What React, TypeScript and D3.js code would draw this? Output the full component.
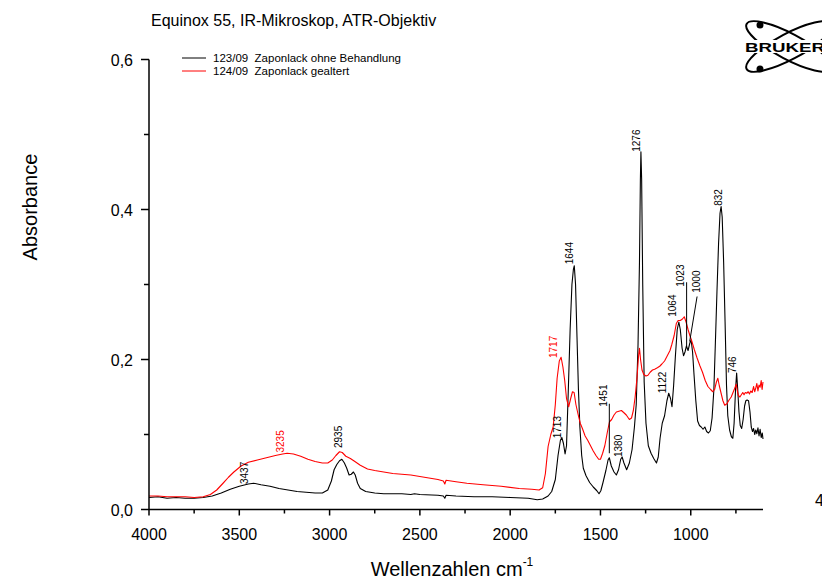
import React from 'react';
import * as d3 from 'd3';

const titleText = 'Equinox 55, IR-Mikroskop, ATR-Objektiv';
const seriesNames = ['123/09  Zaponlack ohne Behandlung', '124/09  Zaponlack gealtert'];
const seriesColors = ['#000000', '#ff0000'];

const blackWn = [4000, 3950, 3900, 3850, 3800, 3750, 3700, 3650, 3600, 3550, 3500, 3450, 3420, 3380, 3330, 3280, 3230, 3180, 3130, 3080, 3040, 3010, 2990, 2975, 2960, 2945, 2932, 2918, 2905, 2892, 2880, 2868, 2858, 2845, 2830, 2800, 2750, 2700, 2600, 2550, 2530, 2500, 2400, 2370, 2362, 2355, 2300, 2200, 2100, 2000, 1900, 1850, 1820, 1790, 1770, 1750, 1735, 1722, 1714, 1705, 1696, 1688, 1678, 1668, 1658, 1650, 1645, 1638, 1630, 1622, 1614, 1604, 1595, 1580, 1560, 1540, 1520, 1508, 1498, 1486, 1470, 1458, 1451, 1440, 1425, 1412, 1400, 1388, 1380, 1370, 1355, 1340, 1325, 1312, 1302, 1292, 1284, 1279, 1276, 1272, 1266, 1258, 1248, 1235, 1220, 1205, 1190, 1180, 1170, 1158, 1145, 1132, 1122, 1112, 1104, 1095, 1085, 1075, 1066, 1058, 1048, 1040, 1032, 1024, 1015, 1005, 998, 990, 982, 972, 962, 952, 942, 932, 922, 912, 902, 892, 882, 872, 864, 855, 846, 838, 832, 826, 818, 810, 802, 795, 785, 775, 767, 760, 752, 746, 740, 733, 726, 718, 710, 702, 695, 688, 680, 672, 665, 658, 652, 646, 640, 634, 628, 622, 616, 610, 604, 600];
const blackAbs = [0.016, 0.017, 0.015, 0.016, 0.015, 0.015, 0.016, 0.018, 0.022, 0.027, 0.031, 0.034, 0.035, 0.033, 0.031, 0.028, 0.026, 0.024, 0.023, 0.022, 0.022, 0.026, 0.038, 0.053, 0.06, 0.065, 0.067, 0.062, 0.055, 0.046, 0.047, 0.05, 0.046, 0.035, 0.028, 0.024, 0.022, 0.021, 0.021, 0.02, 0.021, 0.02, 0.019, 0.018, 0.015, 0.019, 0.018, 0.017, 0.017, 0.016, 0.015, 0.013, 0.014, 0.018, 0.024, 0.04, 0.072, 0.092, 0.096, 0.088, 0.074, 0.085, 0.16, 0.24, 0.3, 0.32, 0.325, 0.3, 0.23, 0.16, 0.11, 0.072, 0.055, 0.045, 0.036, 0.03, 0.025, 0.021, 0.025, 0.036, 0.052, 0.066, 0.069, 0.058, 0.05, 0.046, 0.053, 0.067, 0.07, 0.062, 0.053, 0.062, 0.08, 0.11, 0.14, 0.22, 0.33, 0.44, 0.477, 0.44, 0.3, 0.17, 0.115, 0.085, 0.075, 0.068, 0.062, 0.07, 0.095, 0.115, 0.125, 0.145, 0.155, 0.148, 0.137, 0.165, 0.205, 0.24, 0.25, 0.24, 0.215, 0.205, 0.21, 0.218, 0.212, 0.222, 0.226, 0.21, 0.18, 0.145, 0.118, 0.112, 0.11, 0.107, 0.11, 0.104, 0.102, 0.105, 0.122, 0.16, 0.22, 0.29, 0.355, 0.395, 0.404, 0.39, 0.33, 0.25, 0.165, 0.125, 0.106, 0.097, 0.095, 0.115, 0.16, 0.182, 0.16, 0.13, 0.112, 0.108, 0.12, 0.138, 0.145, 0.146, 0.145, 0.13, 0.11, 0.104, 0.108, 0.1, 0.106, 0.101, 0.109, 0.098, 0.107, 0.096, 0.102, 0.094];

const redWn = [4000, 3950, 3900, 3850, 3800, 3750, 3700, 3660, 3625, 3590, 3560, 3530, 3490, 3450, 3400, 3350, 3300, 3260, 3235, 3200, 3160, 3120, 3080, 3040, 3010, 2985, 2965, 2945, 2930, 2910, 2885, 2860, 2830, 2790, 2750, 2700, 2650, 2600, 2550, 2500, 2450, 2400, 2370, 2362, 2355, 2300, 2240, 2150, 2050, 1950, 1880, 1840, 1820, 1805, 1790, 1775, 1762, 1750, 1740, 1728, 1718, 1708, 1698, 1688, 1676, 1665, 1655, 1646, 1636, 1625, 1612, 1600, 1585, 1570, 1555, 1540, 1525, 1510, 1500, 1488, 1476, 1462, 1450, 1438, 1425, 1412, 1398, 1384, 1370, 1357, 1340, 1328, 1318, 1308, 1298, 1289, 1284, 1278, 1270, 1260, 1248, 1237, 1225, 1212, 1200, 1185, 1172, 1160, 1145, 1130, 1115, 1105, 1092, 1080, 1070, 1058, 1046, 1036, 1026, 1015, 1005, 995, 980, 965, 950, 935, 920, 905, 890, 878, 868, 858, 850, 842, 832, 822, 812, 800, 788, 776, 766, 756, 748, 742, 736, 728, 720, 712, 705, 698, 690, 682, 675, 668, 660, 652, 646, 640, 634, 628, 622, 616, 610, 605, 600];
const redAbs = [0.018, 0.018, 0.017, 0.017, 0.017, 0.016, 0.017, 0.02, 0.026, 0.035, 0.043, 0.05, 0.058, 0.063, 0.066, 0.069, 0.072, 0.074, 0.075, 0.074, 0.071, 0.067, 0.064, 0.062, 0.062, 0.066, 0.072, 0.077, 0.076, 0.071, 0.068, 0.064, 0.059, 0.054, 0.052, 0.05, 0.048, 0.047, 0.046, 0.044, 0.042, 0.04, 0.038, 0.034, 0.039, 0.037, 0.035, 0.033, 0.031, 0.028, 0.027, 0.026, 0.029, 0.048, 0.084, 0.1, 0.11, 0.14, 0.175, 0.198, 0.203, 0.19, 0.172, 0.148, 0.137, 0.148, 0.157, 0.156, 0.14, 0.128, 0.115, 0.108, 0.098, 0.092, 0.085, 0.078, 0.072, 0.067, 0.067, 0.075, 0.085, 0.103, 0.117, 0.12, 0.126, 0.13, 0.131, 0.132, 0.129, 0.126, 0.12, 0.122, 0.132, 0.15, 0.175, 0.205, 0.215, 0.2, 0.186, 0.18, 0.178, 0.179, 0.183, 0.186, 0.187, 0.189, 0.191, 0.194, 0.198, 0.205, 0.212, 0.22, 0.232, 0.248, 0.252, 0.252, 0.254, 0.257, 0.25, 0.24, 0.232, 0.225, 0.213, 0.202, 0.192, 0.183, 0.172, 0.164, 0.16, 0.157, 0.16, 0.17, 0.175, 0.165, 0.155, 0.145, 0.139, 0.141, 0.146, 0.15, 0.156, 0.162, 0.167, 0.158, 0.152, 0.15, 0.153, 0.156, 0.153, 0.156, 0.155, 0.157, 0.154, 0.158, 0.156, 0.164, 0.157, 0.162, 0.168, 0.158, 0.166, 0.163, 0.172, 0.16, 0.17];

const xTicks = [4000, 3500, 3000, 2500, 2000, 1500, 1000];
const xMinorTicks = [3750, 3250, 2750, 2250, 1750, 1250, 750];
const yTicks = [0, 0.2, 0.4, 0.6];
const yTickLabels = ['0,0', '0,2', '0,4', '0,6'];
const yMinorTicks = [0.1, 0.3, 0.5];

// peak annotations: text, anchor wavenumber (label centre), anchor absorbance (label bottom), series index
const peakText = ['3437', '3235', '2935', '1713', '1717', '1644', '1451', '1380', '1276', '1122', '1064', '1023', '1000', '832', '746'];
const peakWn = [3470, 3275, 2953, 1741, 1763, 1672, 1486, 1400, 1301, 1159, 1099, 1060, 971, 848, 769];
const peakAbs = [0.034, 0.076, 0.082, 0.095, 0.202, 0.327, 0.137, 0.07, 0.477, 0.155, 0.257, 0.297, 0.289, 0.405, 0.182];
const peakSeries = [0, 1, 0, 0, 1, 0, 0, 0, 0, 0, 0, 0, 0, 0, 0];

// leader lines
const leaderFromWn = [1451, 1023, 965];
const leaderFromAbs = [0.141, 0.303, 0.284];
const leaderToWn = [1451, 1023, 1006];
const leaderToAbs = [0.075, 0.217, 0.224];

const FONT = 'Liberation Sans, Arial, Helvetica, sans-serif';

export default function App() {
  const x = d3.scaleLinear().domain([4000, 600]).range([149, 763]);
  const y = d3.scaleLinear().domain([0, 0.6]).range([509.5, 59.5]);

  const line = d3
    .line<[number, number]>()
    .x((d) => x(d[0]))
    .y((d) => y(d[1]));

  const blackPts: [number, number][] = blackWn.map((w, i) => [w, blackAbs[i]]);
  const redPts: [number, number][] = redWn.map((w, i) => [w, redAbs[i]]);

  const x0 = x(4000);
  const x1 = x(600);
  const yb = y(0);

  return (
    <svg
      width={822}
      height={580}
      style={{ position: 'absolute', left: 0, top: 0, background: '#fff' }}
      fontFamily={FONT}
    >
      <rect x={0} y={0} width={822} height={580} fill="#fff" />
      {/* title */}
      <text x={151} y={26} fontSize={16} fill="#000">
        {titleText}
      </text>

      {/* legend */}
      {seriesNames.map((n, i) => (
        <g key={n}>
          <line x1={182} x2={206} y1={58 + i * 13} y2={58 + i * 13} stroke={seriesColors[i]} strokeWidth={1} />
          <text x={213} y={62 + i * 13} fontSize={11.5} fill="#000" style={{ whiteSpace: 'pre' }}>
            {n}
          </text>
        </g>
      ))}

      {/* spectra */}
      <path d={line(blackPts) || ''} fill="none" stroke={seriesColors[0]} strokeWidth={1.1} strokeLinejoin="round" />
      <path d={line(redPts) || ''} fill="none" stroke={seriesColors[1]} strokeWidth={1.1} strokeLinejoin="round" />

      {/* leader lines */}
      {leaderFromWn.map((w, i) => (
        <line
          key={'ld' + i}
          x1={x(w)}
          y1={y(leaderFromAbs[i])}
          x2={x(leaderToWn[i])}
          y2={y(leaderToAbs[i])}
          stroke="#000"
          strokeWidth={1}
        />
      ))}

      {/* peak labels */}
      {peakText.map((t, i) => {
        const cx = x(peakWn[i]) + 3.6;
        const by = y(peakAbs[i]);
        return (
          <text
            key={'pk' + i}
            transform={`translate(${cx},${by}) rotate(-90)`}
            fontSize={10}
            fill={seriesColors[peakSeries[i]]}
          >
            {t}
          </text>
        );
      })}

      {/* x axis */}
      <line x1={x0} x2={x1} y1={yb} y2={yb} stroke="#000" strokeWidth={1.5} />
      {xTicks.map((t) => (
        <g key={'xt' + t}>
          <line x1={x(t)} x2={x(t)} y1={yb} y2={yb + 6} stroke="#000" strokeWidth={1.5} />
          <text x={x(t)} y={540} fontSize={16} textAnchor="middle" fill="#000">
            {t}
          </text>
        </g>
      ))}
      {xMinorTicks.map((t) => (
        <line key={'xm' + t} x1={x(t)} x2={x(t)} y1={yb} y2={yb + 4} stroke="#000" strokeWidth={1.5} />
      ))}

      {/* y axis */}
      <line x1={x0} x2={x0} y1={y(0.6)} y2={yb} stroke="#000" strokeWidth={1.5} />
      {yTicks.map((t, i) => (
        <g key={'yt' + t}>
          <line x1={x0 - 8} x2={x0} y1={y(t)} y2={y(t)} stroke="#000" strokeWidth={1.5} />
          <text x={133} y={y(t) + 6} fontSize={16} textAnchor="end" fill="#000">
            {yTickLabels[i]}
          </text>
        </g>
      ))}
      {yMinorTicks.map((t) => (
        <line key={'ym' + t} x1={x0 - 5} x2={x0} y1={y(t)} y2={y(t)} stroke="#000" strokeWidth={1.5} />
      ))}

      {/* axis titles */}
      <text transform="translate(37,207) rotate(-90)" fontSize={20} textAnchor="middle" fill="#000">
        Absorbance
      </text>
      <text x={452} y={576} fontSize={20} textAnchor="middle" fill="#000">
        Wellenzahlen cm
        <tspan fontSize={12} dy={-10}>
          -1
        </tspan>
      </text>

      {/* Bruker logo */}
      <g>
        <ellipse cx={789} cy={46.5} rx={48} ry={13} fill="none" stroke="#000" strokeWidth={2} transform="rotate(28 789 46.5)" />
        <ellipse cx={789} cy={46.5} rx={48} ry={13} fill="none" stroke="#000" strokeWidth={2} transform="rotate(-28 789 46.5)" />
        <circle cx={760} cy={25} r={3.5} fill="#000" />
        <circle cx={760} cy={69} r={3.5} fill="#000" />
        <rect x={743} y={40} width={79} height={13} fill="#fff" />
        <text x={745} y={51.5} fontSize={12} fontWeight="bold" textLength={80} lengthAdjust="spacingAndGlyphs" fill="#000">
          BRUKER
        </text>
      </g>

      {/* partly visible glyph at right edge */}
      <text x={815} y={506} fontSize={16} fill="#000">
        4
      </text>
    </svg>
  );
}
